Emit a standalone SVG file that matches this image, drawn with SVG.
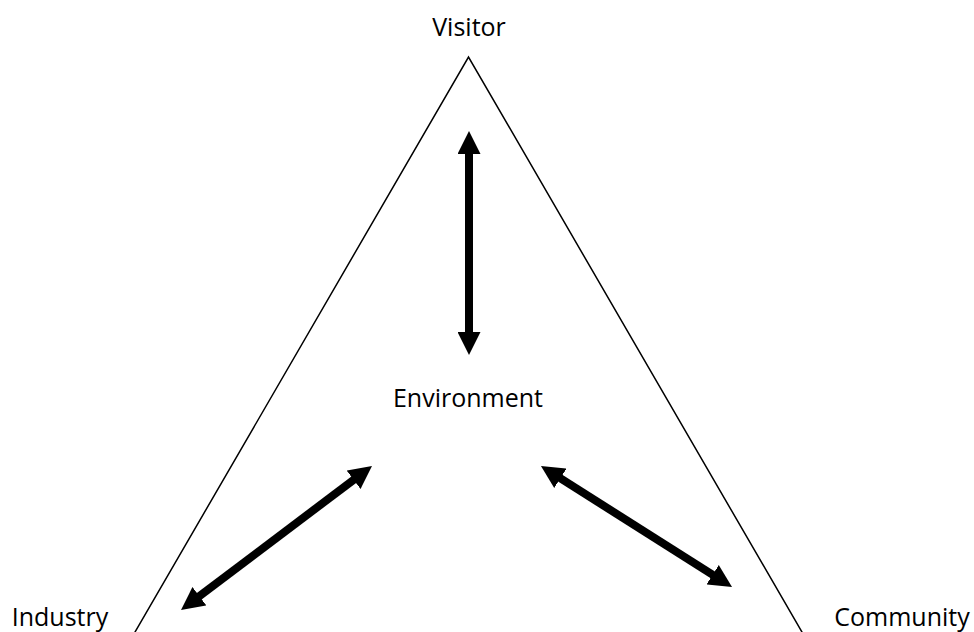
<svg xmlns="http://www.w3.org/2000/svg" width="974" height="632" viewBox="0 0 974 632">
  <style>
    .label { font-family: "Open Sans", "Liberation Sans", sans-serif; font-size: 25px; fill: #000; text-anchor: middle; }
    .frame { fill: none; stroke: #000; stroke-width: 1.5; }
    .link { stroke: #000; stroke-width: 8; fill: none; marker-start: url(#head); marker-end: url(#head); }
  </style>
  <defs>
    <marker id="head" viewBox="0 0 23 23" markerUnits="userSpaceOnUse" markerWidth="23" markerHeight="23" refX="11" refY="11.5" orient="auto-start-reverse">
      <path d="M0,0 L23,11.5 L0,23 Z" fill="#000"/>
    </marker>
  </defs>
  <rect width="974" height="632" fill="#fff"/>

  <!-- triangle outline -->
  <path class="frame" d="M130.4,640 L468.5,57 L806.6,640"/>

  <g id="visitor"><text class="label" x="469" y="36">Visitor</text></g>
  <g id="environment"><text class="label" x="468" y="407">Environment</text></g>
  <g id="industry"><text class="label" x="60" y="626">Industry</text></g>
  <g id="community"><text class="label" x="902" y="626">Community</text></g>

  <g id="connectors">
    <line class="link" x1="469" y1="143" x2="469" y2="343"/>
    <line class="link" x1="190.6" y1="602.8" x2="362.4" y2="473.2"/>
    <line class="link" x1="551.1" y1="472.4" x2="721.9" y2="580.6"/>
  </g>
</svg>
